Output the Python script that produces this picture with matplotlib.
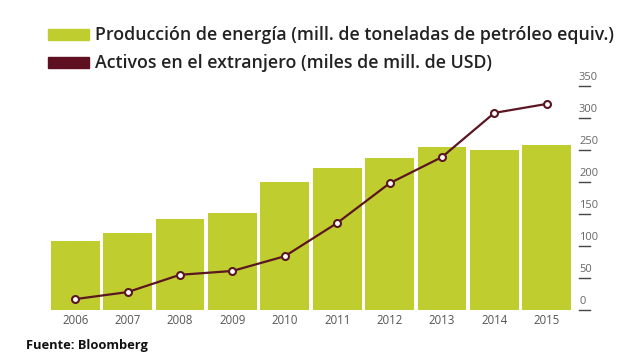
import matplotlib
matplotlib.use("Agg")
import matplotlib.pyplot as plt
from matplotlib.patches import Rectangle

years = ["2006", "2007", "2008", "2009", "2010", "2011", "2012", "2013", "2014", "2015"]
produccion = [108, 120, 142, 152, 200, 222, 237, 255, 250, 258]
activos = [17, 28, 55, 61, 84, 136, 198, 239, 308, 322]
yticks = [0, 50, 100, 150, 200, 250, 300, 350]
legend_labels = ["Producción de energía (mill. de toneladas de petróleo equiv.)",
                 "Activos en el extranjero (miles de mill. de USD)"]
source = "Fuente: Bloomberg"

GREEN = "#BFCD2E"
MAROON = "#5E1020"
LINE = "#5A1622"
W, H = 627, 361

fig = plt.figure(figsize=(W / 100, H / 100), dpi=100)
fig.patch.set_facecolor("white")

ax_l, ax_r, ax_b = 49, 573, 310
ymax = 360
px_per_unit = 0.64
ax_t = ax_b - ymax * px_per_unit
ax = fig.add_axes([ax_l / W, (H - ax_b) / H, (ax_r - ax_l) / W, (ax_b - ax_t) / H])
ax.set_xlim(-0.5, 9.5)
ax.set_ylim(0, ymax)
ax.axis("off")

x = list(range(len(years)))
ax.bar(x, produccion, width=0.93, color=GREEN, zorder=1)
ax.plot(x, activos, color=LINE, lw=1.6, marker="o", ms=5, mfc="white",
        mec=LINE, mew=1.5, zorder=3, clip_on=False)

font = "Open Sans"
ytr = ax.get_yaxis_transform()
span = ax_r - ax_l
for v in yticks:
    ax.annotate(str(v), xy=(1, v), xycoords=ytr, xytext=(6, 3),
                textcoords="offset pixels", ha="left", va="bottom",
                fontsize=8, color="#666666", family=font)
    ax.plot([1 + 6 / span, 1 + 17 / span], [v, v], transform=ytr,
            color="#444444", lw=1, clip_on=False)

xtr = ax.get_xaxis_transform()
for xi, yr in zip(x, years):
    ax.text(xi, -11 / (ax_b - ax_t), yr, transform=xtr, ha="center", va="center",
            fontsize=8.3, color="#555555", family=font)

# legend
fig.patches.append(Rectangle((48 / W, (H - 40) / H), 41 / W, 11 / H,
                             transform=fig.transFigure, color=GREEN))
fig.patches.append(Rectangle((48 / W, (H - 68) / H), 41 / W, 11 / H,
                             transform=fig.transFigure, color=MAROON))
fig.text(95 / W, (H - 35) / H, legend_labels[0], ha="left", va="center",
         fontsize=12.8, color="#222222", family=font, weight="semibold")
fig.text(95 / W, (H - 63) / H, legend_labels[1], ha="left", va="center",
         fontsize=12.8, color="#222222", family=font, weight="semibold")

fig.text(26 / W, (H - 345) / H, source, ha="left", va="center",
         fontsize=9.3, color="#111111", family=font, weight="bold")

fig.savefig("out.png", dpi=100, facecolor="white")
